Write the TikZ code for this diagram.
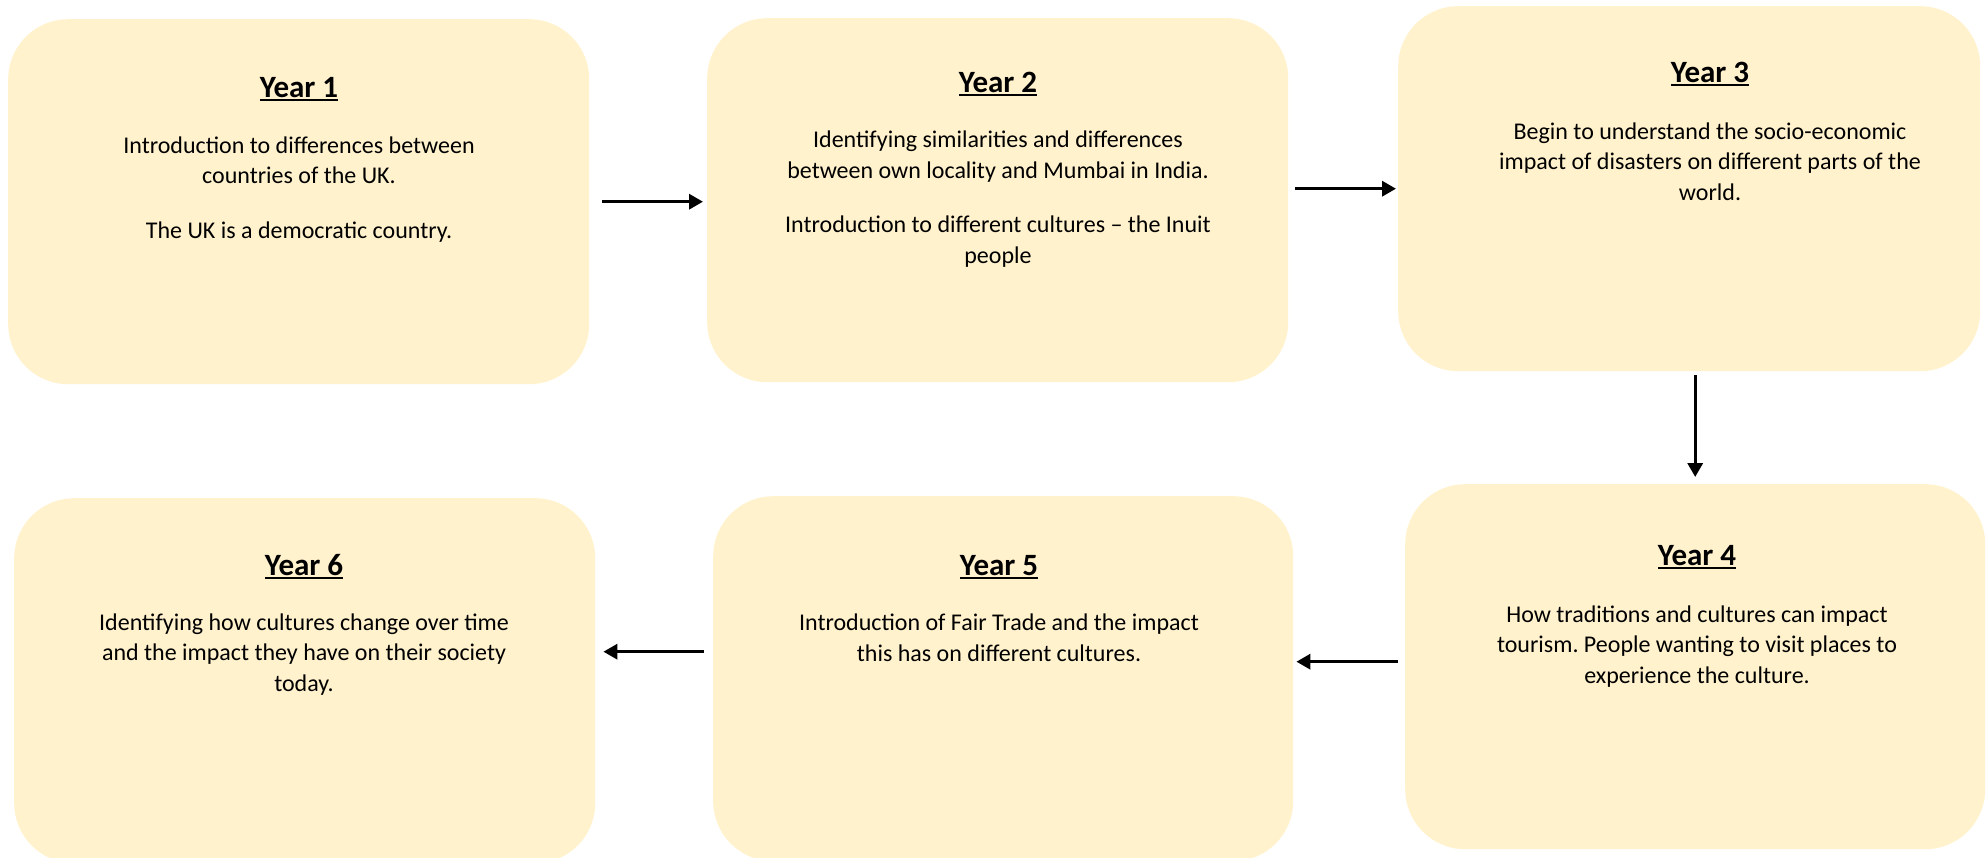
\documentclass[tikz,border=0pt]{standalone}
\usepackage{fontspec}
\setmainfont{Carlito}
\usetikzlibrary{arrows.meta,calc}
\definecolor{boxfill}{HTML}{FFF2CC}
\newcommand{\yrul}[1]{\setbox0\hbox{#1}\rlap{\rule[-3.5pt]{\wd0}{2pt}}\box0}
\frenchspacing
\tikzset{
  yearbox/.style={rectangle, rounded corners=60pt, fill=boxfill, draw=none, inner sep=0pt, anchor=north west},
  yeartitle/.style={anchor=base, inner sep=0pt, font=\fontsize{31}{36}\selectfont\bfseries},
  yearbody/.style={anchor=base, inner sep=0pt, align=center, font=\fontsize{24}{30.5}\selectfont},
  arr/.style={line width=3.3pt, -{Triangle[length=14pt,width=15pt]}}
}
\begin{document}
\begin{tikzpicture}[x=1pt,y=1pt]
\useasboundingbox (0,0) rectangle (1986,-857);
\clip (0,0) rectangle (1986,-857);
% boxes
\node[yearbox, minimum width=581pt, minimum height=365pt] (b1) at (8,-19) {};
\node[yearbox, minimum width=581pt, minimum height=364pt] (b2) at (707,-18) {};
\node[yearbox, minimum width=582pt, minimum height=365pt] (b3) at (1398,-6) {};
\node[yearbox, minimum width=580pt, minimum height=365pt] (b4) at (1405,-484) {};
\node[yearbox, minimum width=580pt, minimum height=365pt] (b5) at (713,-496) {};
\node[yearbox, minimum width=581pt, minimum height=365pt] (b6) at (14,-498) {};
% titles
\node[yeartitle] (h1) at (299,-97) {\yrul{Year 1}};
\node[yeartitle] (h2) at (998,-92) {\yrul{Year 2}};
\node[yeartitle] (h3) at (1710,-82) {\yrul{Year 3}};
\node[yeartitle] (h4) at (1697,-565) {\yrul{Year 4}};
\node[yeartitle] (h5) at (999,-575) {\yrul{Year 5}};
\node[yeartitle] (h6) at (304,-575) {\yrul{Year 6}};
% bodies (anchor base = baseline of last line)
\node[yearbody] (t1) at (299,-238) {Introduction to differences between\\countries of the UK.\\[24pt]The UK is a democratic country.};
\node[yearbody] (t2) at (998,-263) {Identifying similarities and differences\\between own locality and Mumbai in India.\\[24pt]Introduction to different cultures – the Inuit\\people};
\node[yearbody] (t3) at (1710,-200) {Begin to understand the socio-economic\\impact of disasters on different parts of the\\world.};
\node[yearbody] (t4) at (1697,-683) {How traditions and cultures can impact\\tourism. People wanting to visit places to\\experience the culture.};
\node[yearbody] (t5) at (999,-661) {Introduction of Fair Trade and the impact\\this has on different cultures.};
\node[yearbody] (t6) at (304,-691) {Identifying how cultures change over time\\and the impact they have on their society\\today.};
% arrows
\draw[arr, shorten <=13pt, shorten >=4pt] (b1.east) -- (b1.east -| b2.west);
\draw[arr, shorten <=7pt, shorten >=2pt] (b2.east |- b3.west) -- (b3.west);
\draw[arr, shorten <=4pt, shorten >=7pt] (b3.south -| b4.north) -- (b4.north);
\draw[arr, shorten >=3pt] ([xshift=-7pt,yshift=5pt]b4.west) -- ([yshift=5pt]b4.west -| b5.east);
\draw[arr, shorten <=9pt, shorten >=8pt] ([yshift=27pt]b5.west) -- ([yshift=27pt]b5.west -| b6.east);
\end{tikzpicture}
\end{document}
